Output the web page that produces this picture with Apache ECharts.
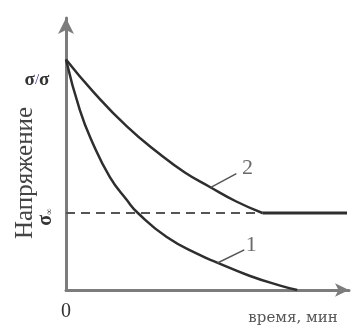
<!DOCTYPE html>
<html><head><meta charset="utf-8">
<script src="https://cdn.jsdelivr.net/npm/echarts@6/dist/echarts.min.js"></script>
<style>html,body{margin:0;padding:0;background:#fff}#c{width:352px;height:325px}</style>
</head><body><div id="c"></div>
<script>
// time (min, arbitrary units) and relative stress values
const curve1X = [0, 0.49, 0.95, 1.55, 2.15, 2.54, 3.56, 4.72, 5.32, 6.48, 7.6, 8.17];
const curve1Y = [1.0, 0.78, 0.636, 0.49, 0.39, 0.334, 0.23, 0.152, 0.12, 0.062, 0.018, 0];
const curve2X = [0, 0.95, 2.15, 3.31, 4.2, 5.07, 6.0, 6.94];
const curve2Y = [1.0, 0.862, 0.71, 0.59, 0.51, 0.448, 0.385, 0.334];
const plateauX = [6.94, 9.93];
const sigmaInf = 0.334;
const dashX = [0, 6.94];
const pointer1 = [[5.35, 0.117], [6.30, 0.174]];
const pointer2 = [[5.12, 0.445], [6.02, 0.505]];
const label1Pos = [6.55, 0.195];
const label2Pos = [6.41, 0.529];
const xTickLabels = ['0'];

const zip = (xs, ys) => xs.map((x, i) => [x, ys[i]]);
const chart = echarts.init(document.getElementById('c'));
const serif = '"Liberation Serif","DejaVu Serif",serif';
const axisColor = '#7c7c7c';
const curveColor = '#2e2e2e';

chart.setOption({
  animation: false,
  grid: { left: 66, right: 2, top: 18, bottom: 35 },
  xAxis: {
    type: 'value', min: 0, max: 10, interval: 10,
    axisLine: { show: true, lineStyle: { color: axisColor, width: 3 }, symbol: ['none', 'arrow'], symbolSize: [10, 14] },
    axisTick: { show: false }, splitLine: { show: false },
    axisLabel: { margin: 12, fontFamily: serif, fontSize: 20, color: '#333',
      formatter: v => (v === 0 ? xTickLabels[0] : '') }
  },
  yAxis: {
    type: 'value', min: 0, max: 1.18,
    axisLine: { show: true, lineStyle: { color: axisColor, width: 3 }, symbol: ['none', 'arrow'], symbolSize: [12, 16] },
    axisTick: { show: false }, splitLine: { show: false }, axisLabel: { show: false }
  },
  series: [
    { type: 'line', data: zip(dashX, [sigmaInf, sigmaInf]), symbol: 'none',
      lineStyle: { color: '#555', width: 2, type: [9, 6] } },
    { type: 'line', data: zip(curve1X, curve1Y), smooth: 0.5, symbol: 'none',
      lineStyle: { color: curveColor, width: 2.5 } },
    { type: 'line', data: zip(curve2X, curve2Y), smooth: 0.5, symbol: 'none',
      lineStyle: { color: curveColor, width: 2.5 } },
    { type: 'line', data: zip(plateauX, [sigmaInf, sigmaInf]), symbol: 'none',
      lineStyle: { color: curveColor, width: 3 } },
    { type: 'line', data: pointer1, symbol: 'none', lineStyle: { color: '#555', width: 1.5 } },
    { type: 'line', data: pointer2, symbol: 'none', lineStyle: { color: '#555', width: 1.5 } },
    { type: 'scatter', symbolSize: 0, data: [
        { value: label1Pos, label: { show: true, formatter: '1' } },
        { value: label2Pos, label: { show: true, formatter: '2' } } ],
      label: { position: 'inside', fontFamily: serif, fontSize: 22, color: '#444' } }
  ],
  graphic: [
    { type: 'text', x: 25, y: 173, rotation: Math.PI / 2,
      style: { text: 'Напряжение', font: '25px ' + serif, fill: '#444', align: 'center', verticalAlign: 'middle' } },
    { type: 'text', x: 37, y: 80,
      style: { text: '{a|σ}{b|/}{a|σ}', align: 'center', verticalAlign: 'middle',
        rich: { a: { font: 'bold 19px ' + serif, fill: '#333' }, b: { font: '15px ' + serif, fill: '#3a3aa8' } } } },
    { type: 'text', x: 46, y: 217, rotation: Math.PI / 2,
      style: { text: '{a|σ}{s|∞}', align: 'center', verticalAlign: 'middle',
        rich: { a: { font: 'bold 20px ' + serif, fill: '#333' }, s: { font: '9px ' + serif, fill: '#333', padding: [8, 0, 0, 0] } } } },
    { type: 'text', x: 293, y: 318,
      style: { text: 'время, мин', font: '15px "DejaVu Serif",serif', fill: '#555', align: 'center', verticalAlign: 'middle' } }
  ]
});
</script></body></html>
